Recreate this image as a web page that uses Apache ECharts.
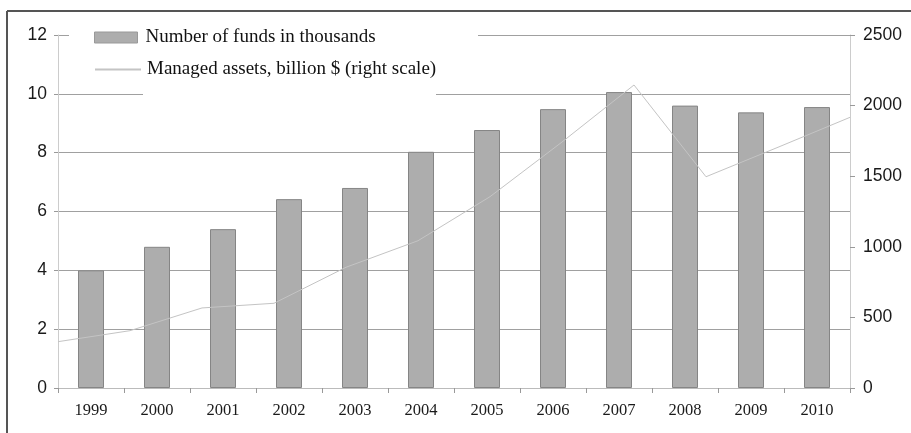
<!DOCTYPE html>
<html>
<head>
<meta charset="utf-8">
<script src="https://cdn.jsdelivr.net/npm/echarts@6/dist/echarts.min.js"></script>
<style>html,body{margin:0;padding:0;background:#fff}#c{width:911px;height:433px}</style>
</head>
<body>
<div id="c"></div>
<script>
var years = ['1999','2000','2001','2002','2003','2004','2005','2006','2007','2008','2009','2010'];
var fundsThousands = [4.0, 4.8, 5.4, 6.42, 6.8, 8.03, 8.77, 9.48, 10.06, 9.6, 9.37, 9.55];
var assetsBillion = [328, 406, 567, 600, 855, 1043, 1355, 1742, 2146, 1496, 1705, 1917];
var leftTicks = {min: 0, max: 12, interval: 2};
var rightTicks = {min: 0, max: 2500, interval: 500};

var chart = echarts.init(document.getElementById('c'), null, {renderer: 'canvas'});
var serif = 'Liberation Serif';
var sans = 'Liberation Sans';
chart.setOption({
  animation: false,
  backgroundColor: '#fff',
  grid: {left: 58, right: 61, top: 35, bottom: 45},
  graphic: [
    {type: 'rect', z: 1, shape: {x: 69, y: 22, width: 409, height: 26}, style: {fill: '#fff'}},
    {type: 'rect', z: 1, shape: {x: 143, y: 50, width: 293, height: 50}, style: {fill: '#fff'}},
    {type: 'line', z: 10, shape: {x1: 7, y1: 11, x2: 911, y2: 11}, style: {stroke: '#555', lineWidth: 2}},
    {type: 'line', z: 10, shape: {x1: 7, y1: 11, x2: 7, y2: 433}, style: {stroke: '#555', lineWidth: 2}}
  ],
  legend: [
    {data: [{name: 'Number of funds in thousands', icon: 'rect'}], left: 89, top: 23, itemWidth: 43, itemHeight: 11, z: 5,
     itemStyle: {borderColor: '#999', borderWidth: 1},
     textStyle: {fontFamily: serif, fontSize: 19, color: '#111', padding: [0, 0, 0, 3]}},
    {data: ['Managed assets, billion $ (right scale)'], left: 89, top: 55, itemWidth: 46, itemHeight: 11, z: 5,
     itemStyle: {opacity: 0},
     textStyle: {fontFamily: serif, fontSize: 19, color: '#111', padding: [0, 0, 0, 1]}}
  ],
  xAxis: [
    {type: 'category', data: years, boundaryGap: true,
     axisLine: {lineStyle: {color: '#bbb'}},
     axisTick: {show: true, length: 5, lineStyle: {color: '#999'}},
     axisLabel: {fontFamily: serif, fontSize: 16.5, color: '#1a1a1a', margin: 14}},
    {type: 'category', data: years, boundaryGap: false, show: false}
  ],
  yAxis: [
    {type: 'value', min: leftTicks.min, max: leftTicks.max, interval: leftTicks.interval,
     axisLine: {show: true, lineStyle: {color: '#ccc'}},
     axisTick: {show: true, length: 4, lineStyle: {color: '#999'}},
     splitLine: {show: true, lineStyle: {color: '#a0a0a0'}},
     axisLabel: {fontFamily: sans, fontSize: 17.5, color: '#1a1a1a', margin: 11}},
    {type: 'value', min: rightTicks.min, max: rightTicks.max, interval: rightTicks.interval, position: 'right',
     axisLine: {show: true, lineStyle: {color: '#ccc'}},
     axisTick: {show: true, length: 5, lineStyle: {color: '#999'}},
     splitLine: {show: false},
     axisLabel: {fontFamily: sans, fontSize: 17.5, color: '#1a1a1a', margin: 13,
                 formatter: function (v) { return String(v); }}}
  ],
  series: [
    {name: 'Number of funds in thousands', type: 'bar', data: fundsThousands, barWidth: 26,
     xAxisIndex: 0, yAxisIndex: 0,
     itemStyle: {color: '#adadad', borderColor: '#858585', borderWidth: 1}},
    {name: 'Managed assets, billion $ (right scale)', type: 'line', data: assetsBillion,
     xAxisIndex: 1, yAxisIndex: 1, symbol: 'none', z: 3,
     lineStyle: {color: '#c4c4c4', width: 1}, itemStyle: {color: '#c4c4c4'}}
  ]
});
</script>
</body>
</html>
